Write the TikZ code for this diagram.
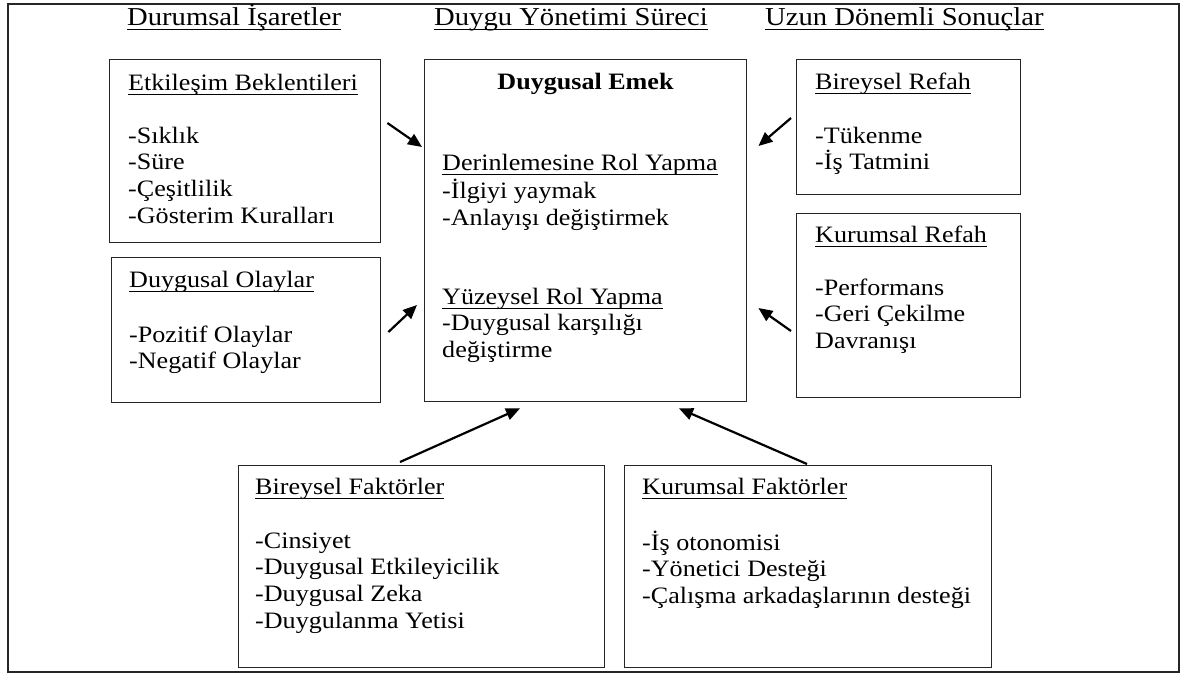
\documentclass[tikz,border=0pt]{standalone}
\usepackage{fontspec}
\setmainfont{Liberation Serif}[FakeStretch=1.11]
\usetikzlibrary{arrows.meta}
% underline at a fixed distance below the baseline
\newcommand{\undl}[1]{\setbox0=\hbox{#1}\rlap{\vrule height -3.8pt depth 5.1pt width \wd0}\box0}
\newcommand{\bodyfont}{\fontsize{23.5}{26.6}\selectfont}
\newcommand{\hdrfont}{\fontsize{25.8}{28}\selectfont}
\begin{document}
\begin{tikzpicture}[x=1pt,y=-1pt,
  box/.style={draw=black!85, line width=1.4pt, inner sep=0pt, anchor=north west},
  txt/.style={anchor=north west, inner sep=0pt, align=left, font=\bodyfont},
  hdr/.style={anchor=base west, inner sep=0pt, font=\hdrfont},
  arr/.style={draw=black, line width=2.2pt, -{Triangle[length=14pt,width=12pt]}}]
\useasboundingbox (0,0) rectangle (1182,673);

% outer frame
\node[box, line width=1.8pt, minimum width=1171pt, minimum height=668pt] (frame) at (7,3) {};

% column headings
\node[hdr] (h1) at (127,25) {\undl{Durumsal İşaretler}};
\node[hdr] (h2) at (434,25) {\undl{Duygu Yönetimi Süreci}};
\node[hdr] (h3) at (765,25) {\undl{Uzun Dönemli Sonuçlar}};

% boxes
\node[box, minimum width=271pt, minimum height=183pt] (eb) at (109,59) {};
\node[box, minimum width=269pt, minimum height=145pt] (do) at (111,257) {};
\node[box, minimum width=322pt, minimum height=342pt] (de) at (424,59) {};
\node[box, minimum width=224pt, minimum height=135pt] (br) at (796,59) {};
\node[box, minimum width=224pt, minimum height=184pt] (kr) at (796,213) {};
\node[box, minimum width=366pt, minimum height=202pt] (bf) at (238,465) {};
\node[box, minimum width=367pt, minimum height=202pt] (kf) at (624,465) {};

% box contents
\node[txt] (ebT) at (128,71.4) {\strut\undl{Etkileşim Beklentileri}\\[26.4pt]
  -Sıklık\\ -Süre\\ -Çeşitlilik\\ -Gösterim Kuralları};
\node[txt] (doT) at (129,268.4) {\strut\undl{Duygusal Olaylar}\\[28.4pt]
  -Pozitif Olaylar\\ -Negatif Olaylar};
\node[anchor=base, inner sep=0pt, font=\bodyfont\bfseries] (deT) at (585.5,89) {Duygusal Emek};
\node[txt] (deA) at (442,151.4) {\strut\undl{Derinlemesine Rol Yapma}\\
  -İlgiyi yaymak\\ -Anlayışı değiştirmek};
\node[txt] (deB) at (442,285.4) {\strut\undl{Yüzeysel Rol Yapma}\\
  -Duygusal karşılığı\\ değiştirme};
\node[txt] (brT) at (815,70.4) {\strut\undl{Bireysel Refah}\\[27.4pt]
  -Tükenme\\ -İş Tatmini};
\node[txt] (krT) at (815,223.4) {\strut\undl{Kurumsal Refah}\\[26.4pt]
  -Performans\\ -Geri Çekilme\\ Davranışı};
\node[txt] (bfT) at (255,475.4) {\strut\undl{Bireysel Faktörler}\\[27.4pt]
  -Cinsiyet\\ -Duygusal Etkileyicilik\\ -Duygusal Zeka\\ -Duygulanma Yetisi};
\node[txt] (kfT) at (642,475.4) {\strut\undl{Kurumsal Faktörler}\\[27.4pt]
  -İş otonomisi\\ -Yönetici Desteği\\ -Çalışma arkadaşlarının desteği};

% influences on emotional labour
\draw[arr] ([shift={(6,64)}]eb.north east) -- ([shift={(-2,88)}]de.north west);
\draw[arr] ([shift={(7,75)}]do.north east) -- ([shift={(-7,246)}]de.north west);
\draw[arr] ([shift={(-5,59)}]br.north west) -- ([shift={(11,87)}]de.north east);
\draw[arr] ([shift={(-5,118)}]kr.north west) -- ([shift={(11,249)}]de.north east);
\draw[arr] ([shift={(162,-3)}]bf.north west) -- ([shift={(96,6)}]de.south west);
\draw[arr] ([shift={(183,-1)}]kf.north west) -- ([shift={(255,6)}]de.south west);
\end{tikzpicture}
\end{document}
